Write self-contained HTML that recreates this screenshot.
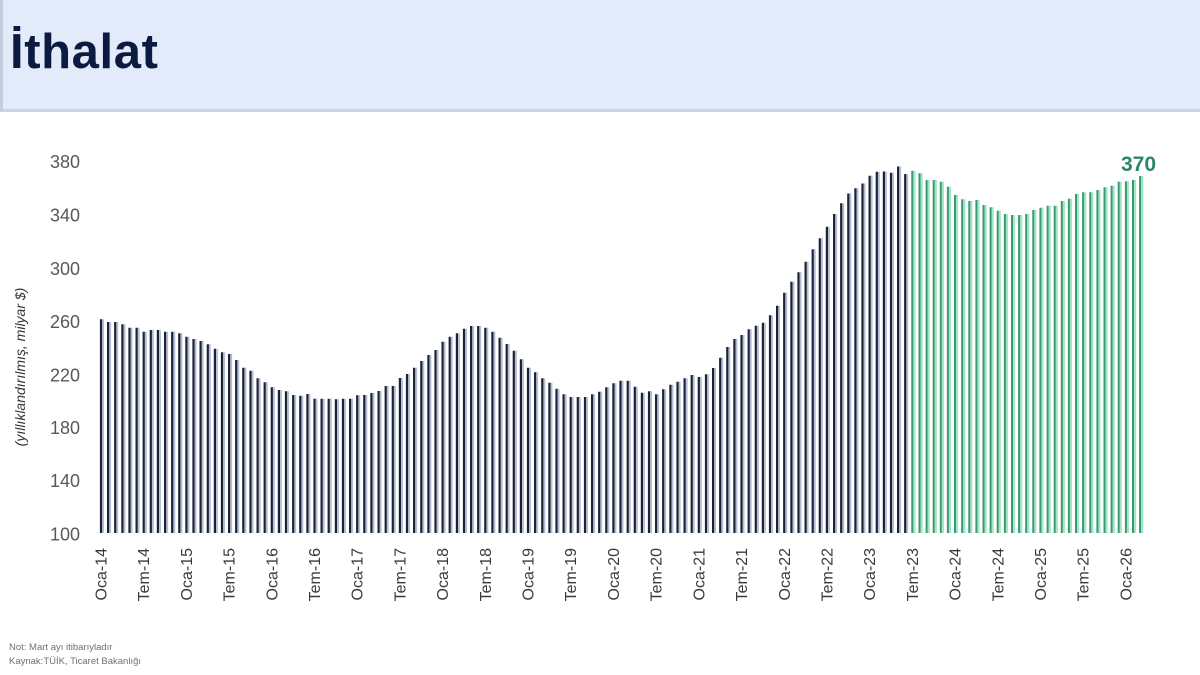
<!DOCTYPE html>
<html>
<head>
<meta charset="utf-8">
<style>
  html, body { margin:0; padding:0; background:#ffffff; }
  body { width:1200px; height:675px; position:relative; overflow:hidden; font-family:"Liberation Sans", Arial, sans-serif; }
  .hdr { position:absolute; left:0; top:0; width:1197px; height:109px; background:#e3ebfa; border-bottom:3px solid #c9d3e8; border-left:3px solid #c3cbdc; }
  .ttl { position:absolute; left:10px; top:24px; font-size:49px; font-weight:bold; color:#0d1a40; letter-spacing:0.6px; }
  svg { position:absolute; left:0; top:0; }
</style>
</head>
<body>
<div class="hdr"></div>
<div class="ttl">İthalat</div>
<svg width="1200" height="675" viewBox="0 0 1200 675" xmlns="http://www.w3.org/2000/svg">
  <defs>
    <path id="db" d="M101 319.3V533M108.1 322V533M115.2 322V533M122.4 324.3V533M129.5 327.7V533M136.6 327.7V533M143.7 331.7V533M150.8 330V533M157.9 330V533M165.1 331.7V533M172.2 331.7V533M179.3 333.3V533M186.4 336.7V533M193.5 339V533M200.6 341V533M207.8 344.3V533M214.9 348.7V533M222 352.3V533M229.1 354V533M236.2 360V533M243.3 367.7V533M250.5 370.7V533M257.6 378.3V533M264.7 382.3V533M271.8 387.3V533M278.9 390V533M286 391.3V533M293.2 395V533M300.3 395.7V533M307.4 394V533M314.5 398.7V533M321.6 398.7V533M328.7 398.7V533M335.9 399.3V533M343 398.7V533M350.1 398.7V533M357.2 395.3V533M364.3 395V533M371.4 393V533M378.6 391V533M385.7 386V533M392.8 386V533M399.9 378V533M407 374V533M414.1 367.7V533M421.3 361V533M428.4 355V533M435.5 350V533M442.6 341.7V533M449.7 336.7V533M456.9 333.3V533M464 328.7V533M471.1 326V533M478.2 326V533M485.3 327.7V533M492.4 331.7V533M499.6 337.7V533M506.7 344V533M513.8 350.7V533M520.9 359.3V533M528 367.7V533M535.1 372.3V533M542.3 378.3V533M549.4 382.7V533M556.5 388.7V533M563.6 394.3V533M570.7 397V533M577.8 397V533M585 397V533M592.1 394.3V533M599.2 391.7V533M606.3 387.3V533M613.4 383.3V533M620.5 380.7V533M627.7 380.7V533M634.8 386.7V533M641.9 392.7V533M649 391.3V533M656.1 394.3V533M663.2 389.3V533M670.4 384.7V533M677.5 381.7V533M684.6 378.3V533M691.7 375V533M698.8 377V533M706 374.3V533M713.1 368V533M720.2 357.7V533M727.3 347V533M734.4 339V533M741.5 335V533M748.7 329.3V533M755.8 325.7V533M762.9 322.7V533M770 315.3V533M777.1 305.7V533M784.2 292.7V533M791.4 281.7V533M798.5 272.3V533M805.6 261.7V533M812.7 249.3V533M819.8 238.3V533M826.9 226.7V533M834.1 214V533M841.2 203.3V533M848.3 193.5V533M855.4 188.2V533M862.5 183.5V533M869.6 175.7V533M876.8 171.8V533M883.9 171.5V533M891 172.7V533M898.1 166.5V533M905.2 174V533"/>
    <path id="gb" d="M912.3 170.8V533M919.5 173.3V533M926.6 180V533M933.7 180V533M940.8 181.7V533M947.9 186.7V533M955 195V533M962.2 199.3V533M969.3 201V533M976.4 200V533M983.5 205V533M990.6 207.3V533M997.7 210.7V533M1004.9 214V533M1012 215V533M1019.1 215V533M1026.2 214V533M1033.3 210V533M1040.4 207.7V533M1047.6 205.7V533M1054.7 205.7V533M1061.8 201V533M1068.9 198.7V533M1076 194V533M1083.1 192.3V533M1090.3 192.3V533M1097.4 190V533M1104.5 187.3V533M1111.6 185.7V533M1118.7 181.7V533M1125.9 181.3V533M1133 180V533M1140.1 176V533"/>
  </defs>

  <!-- bars -->
  <use href="#db" transform="translate(2.1,0)" stroke="#b3bdd3" stroke-width="1.8" fill="none"/>
  <use href="#db" stroke="#1c2238" stroke-width="2.2" fill="none"/>
  <use href="#gb" transform="translate(2.1,0)" stroke="#a2e6c4" stroke-width="2.1" fill="none"/>
  <use href="#gb" stroke="#3a9872" stroke-width="2" fill="none"/>

  <!-- y tick labels -->
  <g font-family="Liberation Sans, Arial, sans-serif" font-size="18" fill="#595959" text-anchor="end">
    <text x="80" y="168">380</text>
    <text x="80" y="221.5">340</text>
    <text x="80" y="274.8">300</text>
    <text x="80" y="328">260</text>
    <text x="80" y="381.5">220</text>
    <text x="80" y="434">180</text>
    <text x="80" y="487">140</text>
    <text x="80" y="540.5">100</text>
  </g>

  <!-- y axis title -->
  <text transform="translate(25,367) rotate(-90)" text-anchor="middle" font-family="Liberation Sans, Arial, sans-serif" font-size="14" font-style="italic" fill="#333">(yıllıklandırılmış, milyar $)</text>

  <!-- x tick labels -->
  <g font-family="Liberation Sans, Arial, sans-serif" font-size="16" fill="#3a3a3a" text-anchor="end">
    <text transform="translate(106.5,548) rotate(-90)">Oca-14</text>
    <text transform="translate(149.2,548) rotate(-90)">Tem-14</text>
    <text transform="translate(191.9,548) rotate(-90)">Oca-15</text>
    <text transform="translate(234.6,548) rotate(-90)">Tem-15</text>
    <text transform="translate(277.3,548) rotate(-90)">Oca-16</text>
    <text transform="translate(320,548) rotate(-90)">Tem-16</text>
    <text transform="translate(362.7,548) rotate(-90)">Oca-17</text>
    <text transform="translate(405.4,548) rotate(-90)">Tem-17</text>
    <text transform="translate(448.1,548) rotate(-90)">Oca-18</text>
    <text transform="translate(490.8,548) rotate(-90)">Tem-18</text>
    <text transform="translate(533.5,548) rotate(-90)">Oca-19</text>
    <text transform="translate(576.2,548) rotate(-90)">Tem-19</text>
    <text transform="translate(619,548) rotate(-90)">Oca-20</text>
    <text transform="translate(661.7,548) rotate(-90)">Tem-20</text>
    <text transform="translate(704.4,548) rotate(-90)">Oca-21</text>
    <text transform="translate(747.1,548) rotate(-90)">Tem-21</text>
    <text transform="translate(789.8,548) rotate(-90)">Oca-22</text>
    <text transform="translate(832.5,548) rotate(-90)">Tem-22</text>
    <text transform="translate(875.2,548) rotate(-90)">Oca-23</text>
    <text transform="translate(917.9,548) rotate(-90)">Tem-23</text>
    <text transform="translate(960.6,548) rotate(-90)">Oca-24</text>
    <text transform="translate(1003.3,548) rotate(-90)">Tem-24</text>
    <text transform="translate(1046,548) rotate(-90)">Oca-25</text>
    <text transform="translate(1088.7,548) rotate(-90)">Tem-25</text>
    <text transform="translate(1131.4,548) rotate(-90)">Oca-26</text>
  </g>

  <!-- value label -->
  <text x="1138.5" y="171" text-anchor="middle" font-family="Liberation Sans, Arial, sans-serif" font-size="21" font-weight="bold" fill="#2e8668">370</text>

  <!-- footnotes -->
  <g font-family="Liberation Sans, Arial, sans-serif" font-size="9.5" fill="#707070">
    <text x="9" y="650">Not: Mart ayı itibarıyladır</text>
    <text x="9" y="664">Kaynak:TÜİK, Ticaret Bakanlığı</text>
  </g>
</svg>
</body>
</html>
